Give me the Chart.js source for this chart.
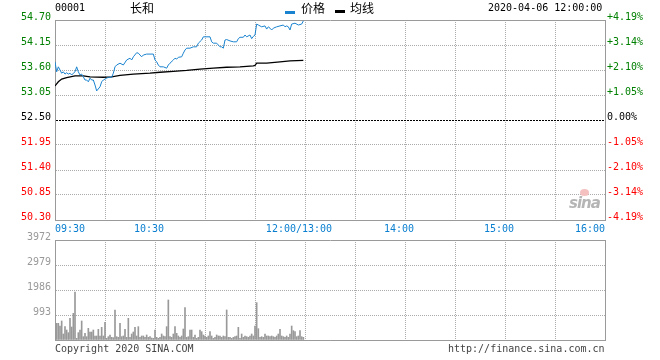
<!DOCTYPE html>
<html>
<head>
<meta charset="utf-8">
<script src="https://cdn.jsdelivr.net/npm/chart.js@4.4.1/dist/chart.umd.min.js"></script>
<style>
body { margin: 0; background: #fff; width: 660px; height: 360px; position: relative; overflow: hidden; }
canvas { position: absolute; left: 0; }
#main { top: 0; }
#vol { top: 230px; }
.t { position: absolute; white-space: nowrap; font: 10px "DejaVu Sans Mono", monospace; line-height: 12px; color: #000; }
.cjk { font: 12px "Noto Sans CJK SC", sans-serif; line-height: 14px; }
.mark { position: absolute; height: 3px; width: 10px; }
</style>
</head>
<body>
<canvas id="main" width="660" height="240"></canvas>
<canvas id="vol" width="660" height="130"></canvas>

<div class="t" style="left:55px;top:2px">00001</div>
<div class="t cjk" style="left:130px;top:1px">长和</div>
<div class="mark" style="left:285px;top:11px;background:#1a83cf"></div>
<div class="t cjk" style="left:301px;top:1px">价格</div>
<div class="mark" style="left:335px;top:10px;background:#000"></div>
<div class="t cjk" style="left:350px;top:1px">均线</div>
<div class="t" style="left:488px;top:2px">2020-04-06 12:00:00</div>
<div class="t" style="left:55px;top:343px;color:#444">Copyright 2020 SINA.COM</div>
<div class="t" style="left:448px;top:343px;color:#444">http://finance.sina.com.cn</div>
<div style="position:absolute;left:580px;top:189px;width:9px;height:7px;border-radius:50%;background:#f4c0c0"></div>
<div style="position:absolute;left:569px;top:194px;font:italic bold 15px 'DejaVu Sans',sans-serif;color:#b5b5b5;letter-spacing:-1px">sina</div>

<script>
// 时间轴: 09:30 起的分钟数 (港股 9:30-12:00, 13:00-16:00 共 330 分钟)
var timeTicks = [0, 30, 60, 90, 120, 150, 180, 210, 240, 270, 300, 330];
var timeLabels = ['09:30', '', '10:30', '', '', '12:00/13:00', '', '14:00', '', '15:00', '', '16:00'];

// 价格轴
var basePrice = 52.50;
var priceTicks = [50.30, 50.85, 51.40, 51.95, 52.50, 53.05, 53.60, 54.15, 54.70];
var pctLabels = ['-4.19%', '-3.14%', '-2.10%', '-1.05%', '0.00%', '+1.05%', '+2.10%', '+3.14%', '+4.19%'];

// 成交量轴
var volTicks = [0, 993, 1986, 2979, 3972];

// 价格 (分钟, 价格)
var priceMin = [0, 1, 2, 3, 4, 5, 6, 7, 8, 9, 10, 11, 12, 13, 14, 15, 16, 17, 18, 19,
    20, 21, 22, 23, 24, 25, 27, 28, 29, 31, 32, 34, 35, 36, 37, 39, 41, 43, 45, 46,
    47, 49, 50, 51, 52, 53, 55, 59, 60, 61, 62, 63, 65, 67, 68, 69, 71, 72, 73, 74,
    76, 77, 78, 79, 81, 83, 85, 86, 88, 89, 93, 94, 95, 97, 99, 100, 101, 102, 103, 105,
    107, 109, 110, 111, 113, 114, 115, 117, 118, 119, 120, 121, 122, 124, 126, 127, 128, 129, 130, 131,
    133, 135, 137, 138, 139, 140, 141, 142, 144, 146, 148, 149];
var priceVal = [53.78, 53.56, 53.67, 53.60, 53.53, 53.56, 53.51, 53.54, 53.51, 53.53, 53.49, 53.53, 53.56, 53.67, 53.56, 53.49, 53.51, 53.45, 53.38, 53.38,
    53.34, 53.42, 53.38, 53.38, 53.27, 53.14, 53.23, 53.34, 53.38, 53.42, 53.44, 53.44, 53.53, 53.67, 53.71, 53.75, 53.71, 53.82, 53.86, 53.82,
    53.89, 53.98, 53.97, 53.93, 53.89, 53.93, 53.95, 53.95, 53.82, 53.78, 53.71, 53.67, 53.67, 53.64, 53.71, 53.75, 53.82, 53.86, 53.84, 53.88,
    53.89, 53.97, 54.04, 54.08, 54.08, 54.11, 54.11, 54.19, 54.26, 54.33, 54.33, 54.22, 54.19, 54.19, 54.11, 54.11, 54.08, 54.26, 54.27, 54.24,
    54.22, 54.22, 54.29, 54.32, 54.32, 54.37, 54.33, 54.37, 54.29, 54.34, 54.37, 54.61, 54.59, 54.55, 54.57, 54.50, 54.55, 54.52, 54.48, 54.52,
    54.55, 54.57, 54.59, 54.55, 54.57, 54.55, 54.48, 54.61, 54.63, 54.59, 54.61, 54.68];

// 均线 (分钟, 价格)
var avgMin = [0, 2, 4, 7, 12, 17, 21, 29, 34, 39, 47, 57, 63, 71, 79, 87, 95, 103, 111, 119, 120, 121, 127, 135, 141, 149];
var avgVal = [53.25, 53.34, 53.40, 53.43, 53.47, 53.47, 53.45, 53.44, 53.45, 53.48, 53.51, 53.53, 53.55, 53.57, 53.59, 53.62, 53.64, 53.66, 53.67, 53.69, 53.70, 53.75, 53.75, 53.78, 53.80, 53.81];

// 每分钟成交量, 09:31 起
var volFirstMin = 1;
var volVal = [662, 662, 556, 755, 238, 530, 397, 291, 861, 516,
    1059, 1907, 66, 291, 397, 755, 132, 265, 132, 463,
    318, 318, 397, 159, 159, 424, 159, 503, 159, 702,
    66, 132, 199, 106, 93, 1192, 132, 106, 662, 132,
    159, 424, 106, 861, 106, 238, 318, 503, 159, 530,
    106, 159, 159, 106, 199, 106, 132, 79, 66, 397,
    106, 66, 106, 238, 159, 132, 530, 1589, 132, 106,
    238, 530, 265, 159, 106, 159, 437, 1284, 106, 132,
    397, 397, 106, 199, 66, 106, 397, 331, 199, 159,
    106, 159, 331, 159, 66, 106, 199, 159, 159, 106,
    159, 132, 1192, 106, 106, 66, 106, 132, 159, 503,
    66, 238, 106, 159, 132, 106, 159, 238, 159, 556,
    1483, 450, 106, 132, 106, 238, 159, 159, 132, 159,
    132, 106, 159, 238, 424, 159, 132, 106, 159, 106,
    238, 556, 371, 331, 132, 159, 371, 132, 106];

var MONO = '"DejaVu Sans Mono", "Liberation Mono", monospace';
var GRID = '#ababab';
var FRAME = '#9a9a9a';

function setTicks(list) {
    return function (s) {
        s.ticks = list.map(function (v) { return {value: v}; });
    };
}

// 内部网格为点线, 边缘为实线
function dotDash(last) {
    return function (c) {
        if (!c.tick) return [];
        if (c.index === 0 || c.index === last) return [];
        return [1, 1];
    };
}

function priceColor(c) {
    var v = c.tick.value;
    if (Math.abs(v - basePrice) < 1e-6) return '#000';
    return v > basePrice ? '#008000' : '#ff0000';
}

var xTime = {
    type: 'linear', min: 0, max: 330, offset: false,
    afterBuildTicks: setTicks(timeTicks),
    afterFit: function (s) { s.height = 20; },
    grid: {color: GRID, drawTicks: false, offset: false},
    border: {color: FRAME, dash: dotDash(timeTicks.length - 1)}
};

new Chart(document.getElementById('main'), {
    type: 'line',
    data: {
        datasets: [{
            label: '价格',
            data: priceMin.map(function (m, i) { return {x: m, y: priceVal[i]}; }),
            borderColor: '#1a83cf',
            borderWidth: 1,
            pointRadius: 0,
            tension: 0
        }, {
            label: '均线',
            data: avgMin.map(function (m, i) { return {x: m, y: avgVal[i]}; }),
            borderColor: '#000',
            borderWidth: 1.3,
            pointRadius: 0,
            tension: 0
        }]
    },
    options: {
        responsive: false,
        animation: false,
        devicePixelRatio: 1,
        events: [],
        layout: {padding: {top: 20}},
        plugins: {legend: {display: false}, tooltip: {enabled: false}},
        scales: {
            x: Object.assign({}, xTime, {
                ticks: {
                    autoSkip: false, maxRotation: 0, align: 'inner', padding: 3,
                    color: '#0a7fd0', font: {family: MONO, size: 10},
                    callback: function (v, i) {
                        var s = timeLabels[i];
                        // 中间标签略微左移
                        return (s && i > 0 && i < timeLabels.length - 1) ? s + '  ' : s;
                    }
                }
            }),
            y: {
                position: 'left', min: 50.30, max: 54.70,
                afterBuildTicks: setTicks(priceTicks),
                afterFit: function (s) { s.width = 55; },
                grid: {
                    drawTicks: false,
                    color: function (c) {
                        if (c.tick && Math.abs(c.tick.value - basePrice) < 1e-6) return '#000';
                        return (c.index === priceTicks.length - 1) ? FRAME : GRID;
                    }
                },
                border: {
                    color: FRAME,
                    dash: function (c) {
                        if (!c.tick) return [];
                        if (Math.abs(c.tick.value - basePrice) < 1e-6) return [2, 1];
                        if (c.index === 0 || c.index === priceTicks.length - 1) return [];
                        return [1, 1];
                    }
                },
                ticks: {
                    padding: 4, labelOffset: -2.5, color: priceColor,
                    font: {family: MONO, size: 10},
                    callback: function (v) { return v.toFixed(2); }
                }
            },
            yr: {
                position: 'right', min: 50.30, max: 54.70,
                afterBuildTicks: setTicks(priceTicks),
                afterFit: function (s) { s.width = 55; },
                grid: {drawOnChartArea: false, drawTicks: false},
                border: {color: FRAME},
                ticks: {
                    padding: 2, labelOffset: -2.5, color: priceColor,
                    font: {family: MONO, size: 10},
                    callback: function (v, i) { return pctLabels[i]; }
                }
            }
        }
    }
});

new Chart(document.getElementById('vol'), {
    type: 'bar',
    data: {
        datasets: [{
            label: '成交量',
            data: volVal.map(function (v, i) { return {x: i + volFirstMin, y: v}; }),
            backgroundColor: '#999',
            borderWidth: 0,
            barThickness: 1,
            grouped: false
        }]
    },
    options: {
        responsive: false,
        animation: false,
        devicePixelRatio: 1,
        events: [],
        layout: {padding: {top: 10}},
        plugins: {legend: {display: false}, tooltip: {enabled: false}},
        scales: {
            x: Object.assign({}, xTime, {ticks: {display: false}}),
            y: {
                position: 'left', min: 0, max: 3972,
                afterBuildTicks: setTicks(volTicks),
                afterFit: function (s) { s.width = 55; },
                grid: {
                    drawTicks: false,
                    color: function (c) { return c.index === volTicks.length - 1 ? FRAME : GRID; }
                },
                border: {color: FRAME, dash: dotDash(volTicks.length - 1)},
                ticks: {
                    padding: 4, labelOffset: -2.5, color: '#999',
                    font: {family: MONO, size: 10},
                    callback: function (v) { return v === 0 ? '' : String(v); }
                }
            },
            yr: {
                position: 'right', min: 0, max: 3972,
                afterBuildTicks: setTicks(volTicks),
                afterFit: function (s) { s.width = 55; },
                grid: {drawOnChartArea: false, drawTicks: false},
                border: {color: FRAME},
                ticks: {display: false}
            }
        }
    }
});
</script>
</body>
</html>
